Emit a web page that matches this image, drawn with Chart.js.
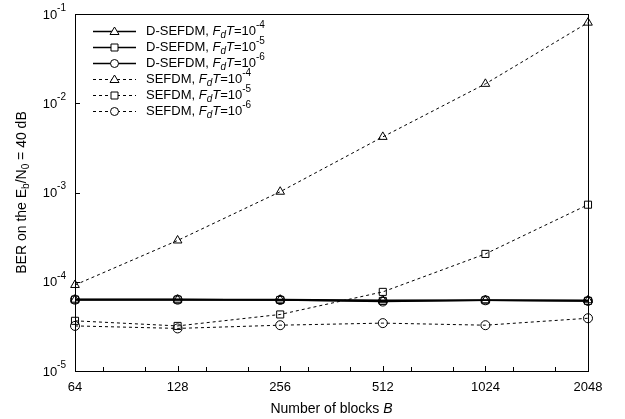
<!DOCTYPE html>
<html>
<head>
<meta charset="utf-8">
<script src="https://cdn.jsdelivr.net/npm/chart.js@4.4.1/dist/chart.umd.min.js"></script>
<style>
html,body{margin:0;padding:0;background:#fff;}
canvas{display:block;}
</style>
</head>
<body>
<canvas id="c" width="625" height="419"></canvas>
<script>
// ---- data ----
const categories = ['64', '128', '256', '512', '1024', '2048'];
const dsefdm4 = [6.3e-5, 6.3e-5, 6.3e-5, 6.2e-5, 6.2e-5, 6.2e-5];
const dsefdm5 = [6.3e-5, 6.3e-5, 6.25e-5, 6.1e-5, 6.2e-5, 6.1e-5];
const dsefdm6 = [6.3e-5, 6.3e-5, 6.25e-5, 6.0e-5, 6.2e-5, 6.1e-5];
const sefdm4 = [9.2e-5, 2.9e-4, 1.02e-3, 4.2e-3, 1.65e-2, 8.0e-2];
const sefdm5 = [3.65e-5, 3.2e-5, 4.3e-5, 7.7e-5, 2.05e-4, 7.3e-4];
const sefdm6 = [3.2e-5, 3.0e-5, 3.26e-5, 3.44e-5, 3.26e-5, 3.9e-5];
const yTickValues = [1e-1, 1e-2, 1e-3, 1e-4, 1e-5];
const yTickExp = ['-1', '-2', '-3', '-4', '-5'];
const legendNames = ['D-SEFDM, ', 'D-SEFDM, ', 'D-SEFDM, ', 'SEFDM, ', 'SEFDM, ', 'SEFDM, '];
const legendExp = ['-4', '-5', '-6', '-4', '-5', '-6'];
const xTitle = 'Number of blocks ';
const xTitleVar = 'B';

const FONT = '"Liberation Sans", Arial, sans-serif';

function ds(label, data, style, dashed) {
  return {
    label: label,
    data: data,
    borderColor: '#000',
    backgroundColor: 'rgba(0,0,0,0)',
    borderWidth: dashed ? 1 : 1.6,
    borderDash: dashed ? [3, 3] : [],
    pointStyle: style,
    pointRadius: style === 'circle' ? 4.5 : 5,
    pointBorderWidth: 1,
    pointBorderColor: '#000',
    pointBackgroundColor: 'rgba(0,0,0,0)',
    tension: 0,
    clip: false
  };
}

const datasets = [
  ds('D-SEFDM 1e-4', dsefdm4, 'triangle', false),
  ds('D-SEFDM 1e-5', dsefdm5, 'rect', false),
  ds('D-SEFDM 1e-6', dsefdm6, 'circle', false),
  ds('SEFDM 1e-4', sefdm4, 'triangle', true),
  ds('SEFDM 1e-5', sefdm5, 'rect', true),
  ds('SEFDM 1e-6', sefdm6, 'circle', true)
];

function drawMarker(ctx, style, x, y) {
  ctx.save();
  ctx.strokeStyle = '#000';
  ctx.lineWidth = 1;
  ctx.setLineDash([]);
  ctx.beginPath();
  if (style === 'triangle') {
    ctx.moveTo(x, y - 4.5); ctx.lineTo(x + 4.5, y + 3); ctx.lineTo(x - 4.5, y + 3); ctx.closePath();
  } else if (style === 'rect') {
    ctx.rect(x - 3.5, y - 3.5, 7, 7);
  } else {
    ctx.arc(x, y, 4, 0, Math.PI * 2);
  }
  ctx.fillStyle = '#fff';
  ctx.fill();
  ctx.stroke();
  ctx.restore();
}

const decor = {
  id: 'decor',
  beforeDatasetsDraw(chart) {
    const ctx = chart.ctx;
    const a = chart.chartArea;
    const xs = chart.scales.x, ys = chart.scales.y;
    ctx.save();
    ctx.strokeStyle = '#000';
    ctx.lineWidth = 1;
    ctx.strokeRect(Math.round(a.left) + 0.5, Math.round(a.top) + 0.5, Math.round(a.right - a.left), Math.round(a.bottom - a.top));
    yTickValues.forEach(v => {
      const y = Math.round(ys.getPixelForValue(v)) + 0.5;
      ctx.beginPath(); ctx.moveTo(a.left, y); ctx.lineTo(a.left + 5, y); ctx.stroke();
    });
    for (let i = 0; i < categories.length; i++) {
      const x = Math.round(xs.getPixelForValue(i)) + 0.5;
      ctx.beginPath(); ctx.moveTo(x, a.bottom); ctx.lineTo(x, a.bottom - 5); ctx.stroke();
      if (i < categories.length - 1) {
        const x2 = xs.getPixelForValue(i + 1);
        [0.27, 0.68].forEach(f => {
          const xm = Math.round(x + (x2 - x) * f) + 0.5;
          ctx.beginPath(); ctx.moveTo(xm, a.bottom); ctx.lineTo(xm, a.bottom - 4); ctx.stroke();
        });
      }
    }
    ctx.restore();
  },
  afterDraw(chart) {
    const ctx = chart.ctx;
    const a = chart.chartArea;
    const xs = chart.scales.x, ys = chart.scales.y;
    ctx.save();
    ctx.fillStyle = '#000';
    ctx.textBaseline = 'middle';
    yTickValues.forEach((v, i) => {
      const y = ys.getPixelForValue(v);
      ctx.font = '10px ' + FONT;
      const supW = ctx.measureText(yTickExp[i]).width;
      const right = a.left - 9;
      ctx.textAlign = 'right';
      ctx.fillText(yTickExp[i], right, y - 6);
      ctx.font = '13px ' + FONT;
      ctx.fillText('10', right - supW, y + 1);
    });
    ctx.font = '13px ' + FONT;
    ctx.textAlign = 'center';
    categories.forEach((c, i) => {
      ctx.fillText(c, xs.getPixelForValue(i), a.bottom + 16);
    });
    ctx.font = '14px ' + FONT;
    const w1 = ctx.measureText(xTitle).width;
    ctx.font = 'italic 14px ' + FONT;
    const w2 = ctx.measureText(xTitleVar).width;
    const cx = (a.left + a.right) / 2;
    let tx = cx - (w1 + w2) / 2;
    ctx.textAlign = 'left';
    ctx.font = '14px ' + FONT;
    ctx.fillText(xTitle, tx, a.bottom + 38);
    ctx.font = 'italic 14px ' + FONT;
    ctx.fillText(xTitleVar, tx + w1, a.bottom + 38);
    ctx.save();
    const cy = (a.top + a.bottom) / 2;
    ctx.translate(22, cy);
    ctx.rotate(-Math.PI / 2);
    const parts = [
      ['BER on the E', 14, 0], ['b', 10, 4], ['/N', 14, 0], ['0', 10, 4], [' = 40 dB', 14, 0]
    ];
    let total = 0;
    parts.forEach(p => { ctx.font = p[1] + 'px ' + FONT; total += ctx.measureText(p[0]).width; });
    let px = -total / 2;
    ctx.textAlign = 'left';
    parts.forEach(p => {
      ctx.font = p[1] + 'px ' + FONT;
      ctx.fillText(p[0], px, p[2]);
      px += ctx.measureText(p[0]).width;
    });
    ctx.restore();
    const rowY0 = a.top + 17, rowH = 16;
    const lx0 = a.left + 18, lx1 = a.left + 61, tx0 = a.left + 71;
    chart.data.datasets.forEach((d, i) => {
      const y = Math.round(rowY0 + i * rowH) + 0.5;
      ctx.save();
      ctx.strokeStyle = '#000';
      ctx.lineWidth = d.borderWidth;
      ctx.setLineDash(d.borderDash);
      ctx.beginPath(); ctx.moveTo(lx0, y); ctx.lineTo(lx1, y); ctx.stroke();
      ctx.restore();
      drawMarker(ctx, d.pointStyle, (lx0 + lx1) / 2, y);
      let x = tx0;
      ctx.textAlign = 'left';
      const seg = (t, f, dy) => { ctx.font = f; ctx.fillText(t, x, y + dy); x += ctx.measureText(t).width; };
      seg(legendNames[i], '13px ' + FONT, 0);
      seg('F', 'italic 13px ' + FONT, 0);
      seg('d', 'italic 10px ' + FONT, 4);
      seg('T', 'italic 13px ' + FONT, 0);
      seg('=10', '13px ' + FONT, 0);
      seg(legendExp[i], '10px ' + FONT, -6);
    });
    ctx.restore();
  }
};

new Chart(document.getElementById('c'), {
  type: 'line',
  data: { labels: categories, datasets: datasets },
  options: {
    responsive: false,
    animation: false,
    devicePixelRatio: 1,
    layout: { padding: { left: 75, right: 37, top: 14, bottom: 48 } },
    plugins: { legend: { display: false }, tooltip: { enabled: false } },
    scales: {
      x: { type: 'category', display: false, offset: false },
      y: { type: 'logarithmic', display: false, min: 1e-5, max: 1e-1 }
    }
  },
  plugins: [decor]
});
</script>
</body>
</html>
